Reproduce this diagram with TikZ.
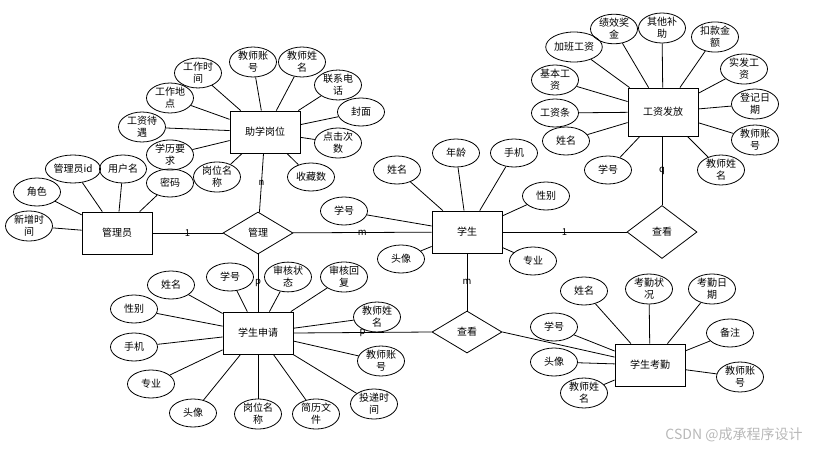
\documentclass[tikz,border=0pt]{standalone}
\usepackage{fontspec}
\setmainfont{Noto Sans CJK SC}
\usetikzlibrary{shapes.geometric}
\tikzset{
  ent/.style={draw, rectangle, line width=0.8pt, minimum width=70pt, minimum height=42pt, inner sep=0pt, font=\fontsize{10}{12}\selectfont},
  rel/.style={draw, diamond, line width=0.8pt, minimum width=70pt, minimum height=42pt, inner sep=0pt, font=\fontsize{10}{12}\selectfont},
  attr/.style={draw, ellipse, line width=0.8pt, minimum width=47pt, minimum height=28pt, inner sep=0pt, align=center, font=\fontsize{10}{12}\selectfont},
  lab/.style={inner sep=0pt, font=\fontsize{9.5}{10}\selectfont},
  conn/.style={line width=0.8pt},
}
\begin{document}
\begin{tikzpicture}[x=1pt,y=-1pt]
\useasboundingbox (0,0) rectangle (820,450);
% entities
\node[ent] (zx) at (265,132) {助学岗位};
\node[ent] (gly) at (117,233) {管理员};
\node[ent, minimum height=48pt] (gz) at (663,112) {工资发放};
\node[ent] (xs) at (467,232) {学生};
\node[ent] (sq) at (258,333) {学生申请};
\node[ent] (kq) at (650,365) {学生考勤};
% relations
\node[rel] (gl) at (258,233) {管理};
\node[rel, minimum height=53pt] (ck1) at (662,232) {查看};
\node[rel] (ck2) at (467,332) {查看};
% attributes of 助学岗位
\node[attr] (a1) at (198,73) {工作时\\间};
\node[attr] (a2) at (253,62) {教师账\\号};
\node[attr] (a3) at (302,62) {教师姓\\名};
\node[attr] (a4) at (338,85) {联系电\\话};
\node[attr] (a5) at (361,112) {封面};
\node[attr] (a6) at (338,143) {点击次\\数};
\node[attr] (a7) at (311,177) {收藏数};
\node[attr] (a8) at (170,98) {工作地\\点};
\node[attr] (a9) at (142,127) {工资待\\遇};
\node[attr] (a10) at (170,155) {学历要\\求};
\node[attr] (a11) at (217,177) {岗位名\\称};
\foreach \i in {1,...,11} \draw[conn] (a\i) -- (zx);
% attributes of 管理员
\node[attr] (b1) at (73,169) {管理员id};
\node[attr] (b2) at (123,169) {用户名};
\node[attr] (b3) at (170,183) {密码};
\node[attr] (b4) at (37,192) {角色};
\node[attr] (b5) at (29,226) {新增时\\间};
\foreach \i in {1,...,5} \draw[conn] (b\i) -- (gly);
% attributes of 工资发放
\node[attr] (c1) at (614,29) {绩效奖\\金};
\node[attr] (c2) at (662,28) {其他补\\助};
\node[attr] (c3) at (715,37) {扣款金\\额};
\node[attr, minimum width=52pt, minimum height=30pt] (c4) at (574,47) {加班工资};
\node[attr] (c5) at (555,80) {基本工\\资};
\node[attr] (c6) at (744,69) {实发工\\资};
\node[attr] (c7) at (555,113) {工资条};
\node[attr] (c8) at (755,104) {登记日\\期};
\node[attr] (c9) at (566,141) {姓名};
\node[attr] (c10) at (755,140) {教师账\\号};
\node[attr] (c11) at (608,170) {学号};
\node[attr] (c12) at (721,170) {教师姓\\名};
\foreach \i in {1,...,12} \draw[conn] (c\i) -- (gz);
% attributes of 学生
\node[attr] (d1) at (397,170) {姓名};
\node[attr] (d2) at (456,153) {年龄};
\node[attr] (d3) at (514,153) {手机};
\node[attr] (d4) at (546,196) {性别};
\node[attr] (d5) at (344,211) {学号};
\node[attr] (d6) at (401,259) {头像};
\node[attr] (d7) at (533,261) {专业};
\foreach \i in {1,...,7} \draw[conn] (d\i) -- (xs);
% attributes of 学生申请
\node[attr] (e1) at (171,285) {姓名};
\node[attr] (e2) at (230,277) {学号};
\node[attr] (e3) at (288,277) {审核状\\态};
\node[attr] (e4) at (344,277) {审核回\\复};
\node[attr] (e5) at (134,309) {性别};
\node[attr] (e6) at (377,317) {教师姓\\名};
\node[attr] (e7) at (134,347) {手机};
\node[attr] (e8) at (381,361) {教师账\\号};
\node[attr] (e9) at (151,384) {专业};
\node[attr] (e10) at (374,404) {投递时\\间};
\node[attr] (e11) at (193,413) {头像};
\node[attr] (e12) at (258,414) {岗位名\\称};
\node[attr] (e13) at (316,414) {简历文\\件};
\foreach \i in {1,...,13} \draw[conn] (e\i) -- (sq);
% attributes of 学生考勤
\node[attr] (f1) at (584,291) {姓名};
\node[attr] (f2) at (649,289) {考勤状\\况};
\node[attr] (f3) at (712,289) {考勤日\\期};
\node[attr] (f4) at (554,327) {学号};
\node[attr] (f5) at (730,333) {备注};
\node[attr] (f6) at (554,362) {头像};
\node[attr] (f7) at (740,377) {教师账\\号};
\node[attr] (f8) at (584,393) {教师姓\\名};
\foreach \i in {1,...,8} \draw[conn] (f\i) -- (kq);
% relationship connectors
\draw[conn] (gly) -- node[lab] {1} (gl);
\draw[conn] (gl) -- node[lab] {m} (xs);
\draw[conn] (zx) -- node[lab] {n} (gl);
\draw[conn] (gl) -- node[lab] {p} (sq);
\draw[conn] (sq.east) -- node[lab] {p} (ck2.west);
\draw[conn] (xs) -- node[lab] {m} (ck2);
\draw[conn] (xs) -- node[lab] {1} (ck1);
\draw[conn] (gz.south -| ck1.north) -- node[lab] {q} (ck1.north);
\draw[conn] (ck2.east) -- (kq);
% watermark
\node[inner sep=0pt, text=black!28, font=\fontsize{14}{16}\selectfont] (wm) at (734,435) {CSDN @成承程序设计};
\end{tikzpicture}
\end{document}
